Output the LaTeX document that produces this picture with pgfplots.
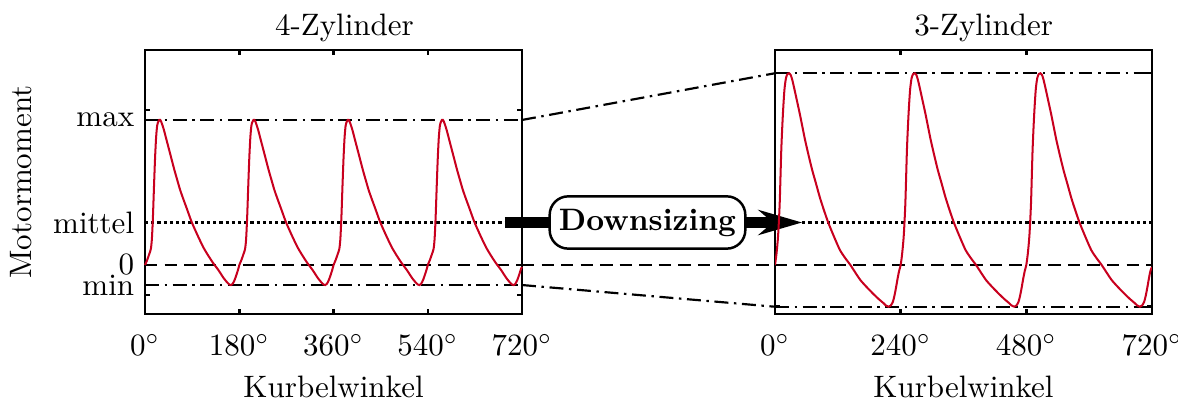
\documentclass[border=0pt]{standalone}
\usepackage{pgfplots}
\pgfplotsset{compat=1.18}
\usetikzlibrary{arrows.meta}
\definecolor{curvered}{RGB}{200,0,30}

\tikzset{
  refmax/.style={black, line width=0.7pt, dash pattern=on 4.5pt off 1.8pt on 0.8pt off 1.8pt},
  refmid/.style={black, line width=0.7pt, dash pattern=on 1pt off 1pt},
  refzero/.style={black, line width=0.7pt, dash pattern=on 4pt off 2.3pt},
}
\pgfplotsset{
  zyl/.style={
    scale only axis,
    width=121.6pt, height=85.2pt,
    xmin=0, xmax=720, ymin=-49, ymax=215,
    axis line style={line width=0.8pt},
    major tick length=1.6pt,
    every tick/.style={black, line width=0.8pt},
    tick align=inside,
    xticklabel={$\pgfmathprintnumber{\tick}^\circ$},
    xticklabel style={yshift=-3.1pt},
    xlabel={Kurbelwinkel},
    xlabel style={yshift=0.5pt},
    yticklabels={,,,},
    title style={anchor=base, yshift=-1.2pt},
  },
  torque/.style={curvered, line width=0.65pt, smooth, tension=0.45, no markers},
}

\begin{document}
\begin{tikzpicture}
\useasboundingbox (-46.8pt,-28.1pt) rectangle (333.2pt,101.3pt);

% ---------- 4 cylinders ----------
\begin{axis}[zyl, at={(0pt,0pt)}, anchor=south west,
  title={4-Zylinder},
  title style={xshift=3.5pt},
  xtick={0,180,360,540,720},
  ytick={-30,0,155},
  extra y ticks={-20,0,42.5,145},
  extra y tick labels={min,0,mittel,max},
  extra y tick style={major tick length=0pt},
  ylabel={Motormoment},
  clip=false,
]
\addplot[refmax] coordinates {(0,145) (720,145)};
\addplot[refmax] coordinates {(0,-20) (720,-20)};
\addplot[refmid] coordinates {(0,42.5) (720,42.5)};
\addplot[refzero] coordinates {(0,0) (720,0)};
\addplot[torque] coordinates {
(0,0)(4,5)(8,11)(11,16)(13,26)(15,48)(17,78)(19,106)(21,127)(23,139)(25,143)(27,145)(29,145)(31,143)(33,140)(36,135)(40,127)(45,117)(50,107)(56,95)(62,84)(67,75)(73,66)(80,56)(89,43)(100,30)(111,18)(120,10)(130,2)(140,-5)(150,-13)(157,-17.5)(161,-19.5)(164,-20)(167,-19)(171,-15)(175,-9)(178,-4)
(180,0)(184,5)(188,11)(191,16)(193,26)(195,48)(197,78)(199,106)(201,127)(203,139)(205,143)(207,145)(209,145)(211,143)(213,140)(216,135)(220,127)(225,117)(230,107)(236,95)(242,84)(247,75)(253,66)(260,56)(269,43)(280,30)(291,18)(300,10)(310,2)(320,-5)(330,-13)(337,-17.5)(341,-19.5)(344,-20)(347,-19)(351,-15)(355,-9)(358,-4)
(360,0)(364,5)(368,11)(371,16)(373,26)(375,48)(377,78)(379,106)(381,127)(383,139)(385,143)(387,145)(389,145)(391,143)(393,140)(396,135)(400,127)(405,117)(410,107)(416,95)(422,84)(427,75)(433,66)(440,56)(449,43)(460,30)(471,18)(480,10)(490,2)(500,-5)(510,-13)(517,-17.5)(521,-19.5)(524,-20)(527,-19)(531,-15)(535,-9)(538,-4)
(540,0)(544,5)(548,11)(551,16)(553,26)(555,48)(557,78)(559,106)(561,127)(563,139)(565,143)(567,145)(569,145)(571,143)(573,140)(576,135)(580,127)(585,117)(590,107)(596,95)(602,84)(607,75)(613,66)(620,56)(629,43)(640,30)(651,18)(660,10)(670,2)(680,-5)(690,-13)(697,-17.5)(701,-19.5)(704,-20)(707,-19)(711,-15)(715,-9)(718,-4)(720,-2)
};
% downsizing arrow towards the smaller engine (same scale continues to the right)
\draw[black, line width=3.4pt, -{Stealth[length=14pt,width=8pt]}]
  (axis cs:687,42.5) -- node[pos=0.48, draw, fill=white, line width=0.8pt,
    rounded corners=6pt, inner xsep=3pt, inner ysep=4pt]
  {\textbf{Downsizing}} (axis cs:1255,42.5);
\coordinate (Lmax) at (axis cs:720,145);
\coordinate (Lmin) at (axis cs:720,-20);
\coordinate (Lzero) at (axis cs:720,0);
\end{axis}

% ---------- 3 cylinders ----------
\begin{axis}[zyl, at={(203.2pt,0pt)}, anchor=south west,
  title={3-Zylinder},
  title style={xshift=6.5pt},
  xtick={0,240,480,720},
  ytick={-41.7,0,191.7},
]
\addplot[refmax] coordinates {(0,191.7) (720,191.7)};
\addplot[refmax] coordinates {(0,-41.7) (720,-41.7)};
\addplot[refmid] coordinates {(52,42.5) (720,42.5)};
\addplot[refzero] coordinates {(0,0) (720,0)};
\addplot[torque] coordinates {
(0,0)(3,12)(6,30)(9,62)(12,115)(15,150)(18,175)(21,187)(24,191)(27,191.7)(30,190)(33,185)(37,176)(42,164)(47,152)(52,139)(57,126)(64,110)(71,95)(78,82)(86,67)(94,54)(102,42)(113,28)(124,15)(134,7)(144,0)(154,-8)(163,-15)(175,-22)(188,-29)(198,-34)(207,-38)(212,-40.5)(217,-41.7)(221,-40.5)(225,-37)(228,-31)(231,-23)(234,-14)(237,-6)
(240,0)(243,12)(246,30)(249,62)(252,115)(255,150)(258,175)(261,187)(264,191)(267,191.7)(270,190)(273,185)(277,176)(282,164)(287,152)(292,139)(297,126)(304,110)(311,95)(318,82)(326,67)(334,54)(342,42)(353,28)(364,15)(374,7)(384,0)(394,-8)(403,-15)(415,-22)(428,-29)(438,-34)(447,-38)(452,-40.5)(457,-41.7)(461,-40.5)(465,-37)(468,-31)(471,-23)(474,-14)(477,-6)
(480,0)(483,12)(486,30)(489,62)(492,115)(495,150)(498,175)(501,187)(504,191)(507,191.7)(510,190)(513,185)(517,176)(522,164)(527,152)(532,139)(537,126)(544,110)(551,95)(558,82)(566,67)(574,54)(582,42)(593,28)(604,15)(614,7)(624,0)(634,-8)(643,-15)(655,-22)(668,-29)(678,-34)(687,-38)(692,-40.5)(697,-41.7)(701,-40.5)(705,-37)(708,-31)(711,-23)(714,-14)(717,-6)(720,-2)
};
\coordinate (Rmax) at (axis cs:0,191.7);
\coordinate (Rmin) at (axis cs:0,-41.7);
\coordinate (Rzero) at (axis cs:0,0);
\end{axis}

% links between the reference levels of both engines
\draw[refmax] (Lmax) -- (Rmax);
\draw[refmax] (Lmin) -- (Rmin);
\draw[refzero] (Lzero) -- (Rzero);
\end{tikzpicture}
\end{document}
